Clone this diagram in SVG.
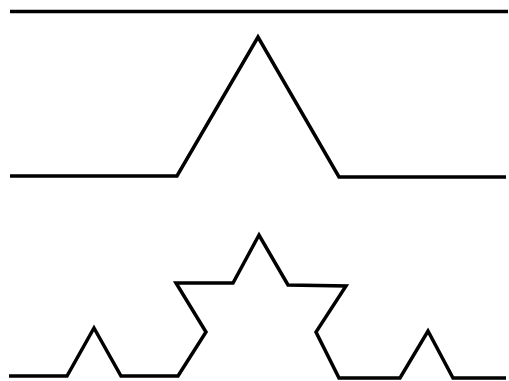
<svg xmlns="http://www.w3.org/2000/svg" width="509" height="381" viewBox="0 0 509 381">
<style>
.k{fill:none;stroke:#000;stroke-width:3.5;stroke-linejoin:miter;stroke-linecap:butt}
</style>
<rect width="509" height="381" fill="#fff"/>
<g id="koch0"><polyline class="k" points="10,11.5 508,11.5"/></g>
<g id="koch1"><polyline class="k" points="10,176 177,176 258,37 339,177 506,177"/></g>
<g id="koch2"><polyline class="k" points="9,376 67,376 94,328 121,376 178,376 206,332 176,283 233,283 259,235 288,285 346,286 316,332 339,378 400,378 428,331 453,378 506,378"/></g>
</svg>
